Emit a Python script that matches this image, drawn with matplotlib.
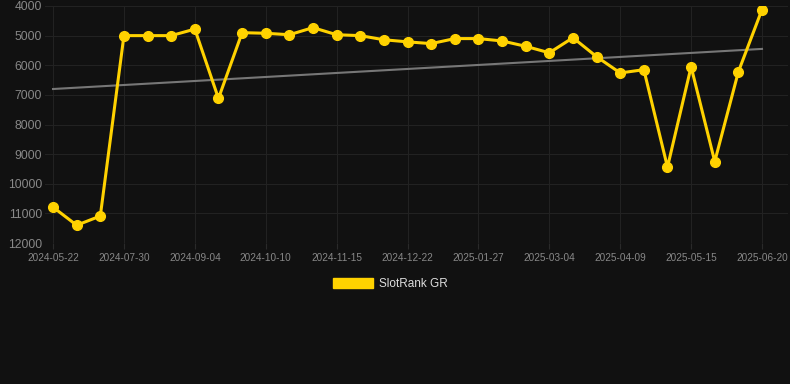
import numpy as np
import matplotlib
matplotlib.use("Agg")
import matplotlib.pyplot as plt
from matplotlib.patches import Patch

plt.rcParams['font.family'] = ['Liberation Sans', 'DejaVu Sans']

# rank values, one per sample (equally spaced on the x axis)
ranks = [10790, 11400, 11090, 5000, 5000, 5000, 4780, 7120, 4900, 4920,
         4970, 4730, 4970, 5000, 5140, 5210, 5270, 5100, 5100, 5180,
         5360, 5580, 5070, 5710, 6260, 6150, 9440, 6050, 9250, 6220, 4120]
tick_labels = ['2024-05-22', '2024-07-30', '2024-09-04', '2024-10-10', '2024-11-15',
               '2024-12-22', '2025-01-27', '2025-03-04', '2025-04-09', '2025-05-15',
               '2025-06-20']
y_ticks = [4000, 5000, 6000, 7000, 8000, 9000, 10000, 11000, 12000]

bg = '#111111'
gold = '#FFD200'

x = np.arange(len(ranks))
slope, icpt = np.polyfit(x, ranks, 1)

fig = plt.figure(figsize=(7.9, 3.84), dpi=100, facecolor=bg)
ax = fig.add_axes([45 / 790, 141 / 384, 743 / 790, 237 / 384], facecolor=bg)

ax.plot(x, slope * x + icpt, color='#777777', lw=1.5, zorder=2)
ax.plot(x, ranks, color=gold, lw=2.2, marker='o', ms=7, zorder=3)

ax.set_ylim(12000, 4000)
ax.set_xlim(-0.34, 31.1)
ax.set_yticks(y_ticks)
ax.set_yticklabels([str(v) for v in y_ticks])
ax.set_xticks(x[::3])
ax.set_xticklabels(tick_labels)

ax.grid(True, color='#222222', lw=0.8)
for s in ax.spines.values():
    s.set_visible(False)
ax.tick_params(axis='y', colors='#888888', labelsize=8.7, length=0, pad=2)
ax.tick_params(axis='x', colors='#888888', labelsize=7.2, length=4, color='#2a2a2a', pad=3)

handle = Patch(facecolor=gold, edgecolor=gold)
fig.legend([handle], ['SlotRank GR'], loc='center', bbox_to_anchor=(390 / 790, 1 - 284 / 384),
           frameon=False, fontsize=8.5, labelcolor='#dddddd', handlelength=3.4,
           handleheight=0.85, handletextpad=0.5)

fig.savefig('out.png', dpi=100, facecolor=bg)
